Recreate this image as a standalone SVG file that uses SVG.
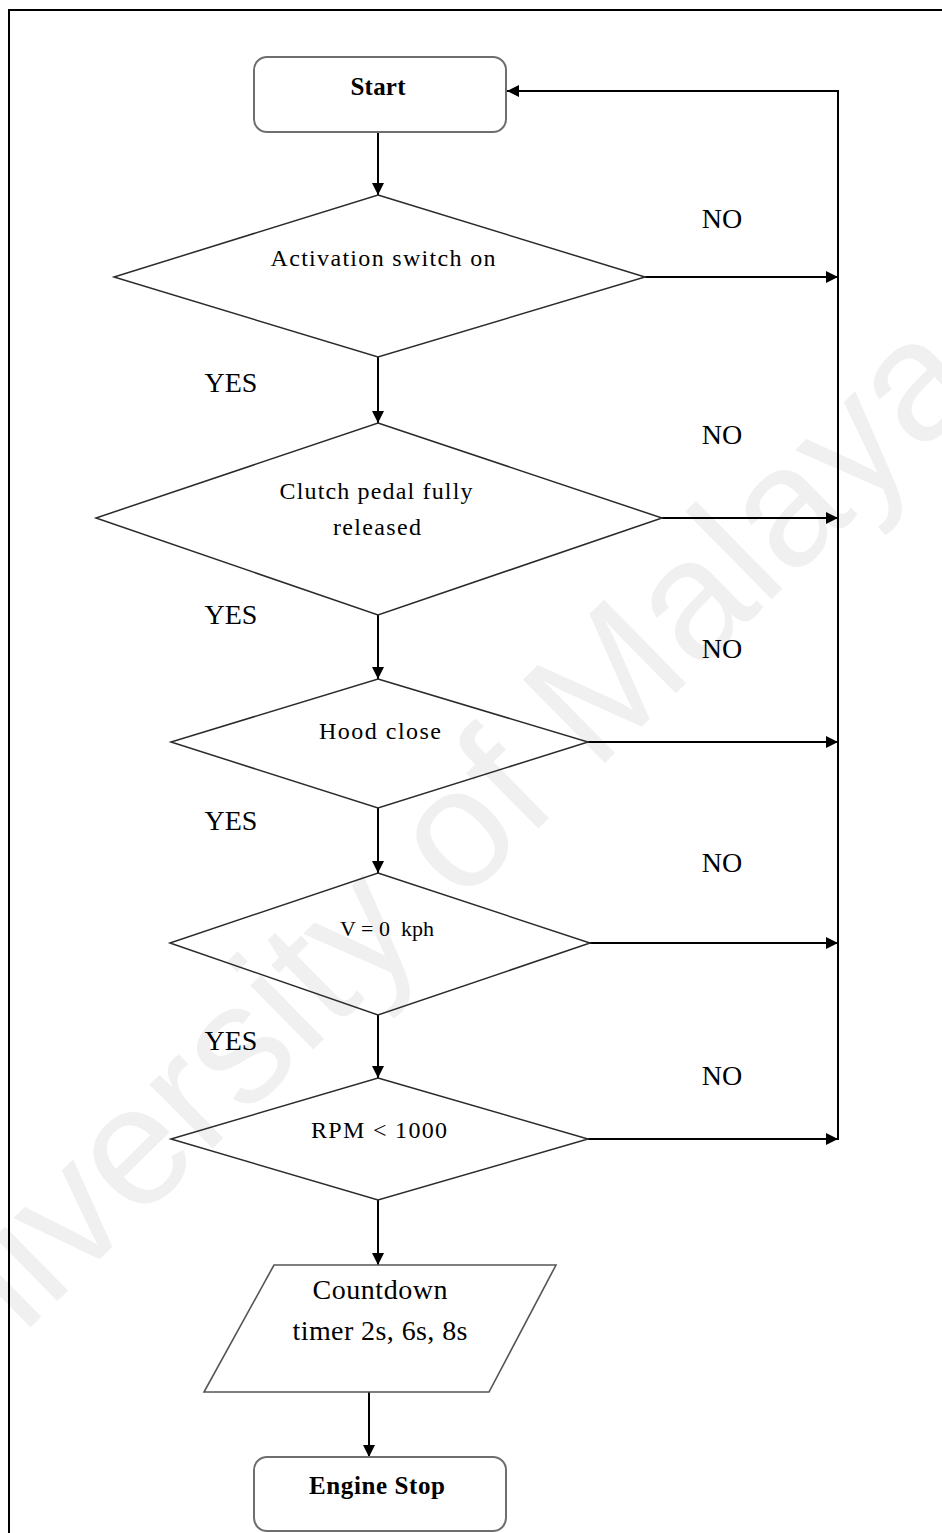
<svg xmlns="http://www.w3.org/2000/svg" width="942" height="1533" viewBox="0 0 942 1533">
<defs>
<style>
.wm{font-family:"Liberation Sans",Arial,sans-serif;font-size:170px;fill:#f0f0f0}
.t{font-family:"Liberation Serif","Times New Roman",serif;font-size:24px;fill:#000;text-anchor:middle}
.b{font-family:"Liberation Serif","Times New Roman",serif;font-size:25px;font-weight:bold;fill:#000;text-anchor:middle}
.big{font-family:"Liberation Serif","Times New Roman",serif;font-size:28px;fill:#000;text-anchor:middle}
.lbl{font-family:"Liberation Serif","Times New Roman",serif;font-size:28px;fill:#000;text-anchor:middle}
.term{fill:#fff;stroke:#6e6e6e;stroke-width:2}
.dec{fill:none;stroke:#2a2a2a;stroke-width:1.5}
.io{fill:#fff;stroke:#555;stroke-width:1.6}
.c{fill:none;stroke:#000;stroke-width:2}
</style>
<marker id="ah" markerUnits="userSpaceOnUse" markerWidth="13" markerHeight="13" refX="12" refY="6" orient="auto">
<path d="M0,0 L12,6 L0,12 z" fill="#000"/>
</marker>
</defs>
<rect width="942" height="1533" fill="#fff"/>
<text class="wm" x="440" y="925" text-anchor="middle" transform="rotate(-44.5 440 925)">University of Malaya</text>
<path d="M9,1533 V10 H942" fill="none" stroke="#000" stroke-width="2"/>

<g id="connectors">
<line class="c" x1="378" y1="132" x2="378" y2="195" marker-end="url(#ah)"/>
<line class="c" x1="378" y1="357" x2="378" y2="423" marker-end="url(#ah)"/>
<line class="c" x1="378" y1="615" x2="378" y2="679" marker-end="url(#ah)"/>
<line class="c" x1="378" y1="808" x2="378" y2="873" marker-end="url(#ah)"/>
<line class="c" x1="378" y1="1015" x2="378" y2="1078" marker-end="url(#ah)"/>
<line class="c" x1="378" y1="1200" x2="378" y2="1265" marker-end="url(#ah)"/>
<line class="c" x1="369" y1="1392" x2="369" y2="1457" marker-end="url(#ah)"/>
<line class="c" x1="645" y1="277" x2="838" y2="277" marker-end="url(#ah)"/>
<line class="c" x1="662" y1="518" x2="838" y2="518" marker-end="url(#ah)"/>
<line class="c" x1="588" y1="742" x2="838" y2="742" marker-end="url(#ah)"/>
<line class="c" x1="590" y1="943" x2="838" y2="943" marker-end="url(#ah)"/>
<line class="c" x1="588" y1="1139" x2="838" y2="1139" marker-end="url(#ah)"/>
<path class="c" d="M838,1140 V91 H507" marker-end="url(#ah)"/>
<text class="lbl" x="722" y="228">NO</text>
<text class="lbl" x="722" y="444">NO</text>
<text class="lbl" x="722" y="658">NO</text>
<text class="lbl" x="722" y="872">NO</text>
<text class="lbl" x="722" y="1085">NO</text>
<text class="lbl" x="231" y="392">YES</text>
<text class="lbl" x="231" y="624">YES</text>
<text class="lbl" x="231" y="830">YES</text>
<text class="lbl" x="231" y="1050">YES</text>
</g>

<g id="start">
<rect class="term" x="254" y="57" width="252" height="75" rx="13"/>
<text class="b" x="378" y="95" textLength="55">Start</text>
</g>

<g id="d1">
<polygon class="dec" points="378,195 645,277 378,357 114,277"/>
<text class="t" x="383" y="266" textLength="225">Activation switch on</text>
</g>

<g id="d2">
<polygon class="dec" points="378,423 662,518 378,615 96,518"/>
<text class="t" x="376" y="499" textLength="193">Clutch pedal fully</text>
<text class="t" x="377" y="535" textLength="88">released</text>
</g>

<g id="d3">
<polygon class="dec" points="378,679 588,742 378,808 171,742"/>
<text class="t" x="380" y="739" textLength="122">Hood close</text>
</g>

<g id="d4">
<polygon class="dec" points="378,873 590,943 378,1015 170,943"/>
<text class="t" x="387" y="936" style="font-size:22px" xml:space="preserve">V = 0  kph</text>
</g>

<g id="d5">
<polygon class="dec" points="378,1078 588,1139 378,1200 171,1139"/>
<text class="t" x="379" y="1138" textLength="136">RPM &lt; 1000</text>
</g>

<g id="timer">
<polygon class="io" points="274,1265 556,1265 489,1392 204,1392"/>
<text class="big" x="380" y="1299" textLength="135">Countdown</text>
<text class="big" x="380" y="1340" textLength="175">timer 2s, 6s, 8s</text>
</g>

<g id="stop">
<rect class="term" x="254" y="1457" width="252" height="74" rx="13"/>
<text class="b" x="377" y="1494" textLength="136">Engine Stop</text>
</g>
</svg>
